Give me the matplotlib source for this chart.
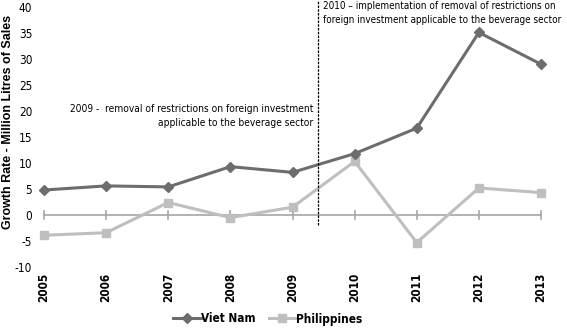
import matplotlib
matplotlib.use("Agg")
import matplotlib.pyplot as plt
from matplotlib import font_manager

years = ["2005", "2006", "2007", "2008", "2009", "2010", "2011", "2012", "2013"]
viet_nam = [4.8, 5.6, 5.4, 9.3, 8.2, 11.8, 16.7, 35.1, 29.0]
philippines = [-3.9, -3.4, 2.4, -0.5, 1.5, 10.3, -5.3, 5.2, 4.3]
y_ticks = [-10, -5, 0, 5, 10, 15, 20, 25, 30, 35, 40]

names = {f.name for f in font_manager.fontManager.ttflist}
narrow = "Liberation Sans Narrow" if "Liberation Sans Narrow" in names else "DejaVu Sans"
stretch = "normal" if narrow == "Liberation Sans Narrow" else "condensed"

W, H = 567, 328
fig = plt.figure(figsize=(W / 100, H / 100), dpi=100)
ax_l, ax_r, ax_t, ax_b = 35, 550, 7, 267
ax = fig.add_axes([ax_l / W, 1 - ax_b / H, (ax_r - ax_l) / W, (ax_b - ax_t) / H])

fp = dict(fontfamily=narrow, fontstretch=stretch)
x = list(range(len(years)))
sp = 62.125
ax.set_xlim(-(44 - ax_l) / sp, 8 + (ax_r - 541) / sp)
ax.set_ylim(-10, 40)

# zero axis line with crossing ticks
ax.plot([0, 8], [0, 0], color="#a6a6a6", lw=1.2, zorder=1)
for xi in x:
    ax.plot([xi, xi], [-0.75, 0.75], color="#a6a6a6", lw=1.2, zorder=1)

ax.plot(x, viet_nam, color="#6d6d6d", lw=2.2, marker="D", ms=4.8, label="Viet Nam", zorder=3)
ax.plot(x, philippines, color="#bfbfbf", lw=2.2, marker="s", ms=6.2, label="Philippines", zorder=2)

# vertical dotted line
ax.plot([4.41, 4.41], [-1.9, 41.4], color="black", lw=0.9, ls=(0, (2, 1)), clip_on=False, zorder=4)

for s in ax.spines.values():
    s.set_visible(False)
ax.set_yticks(y_ticks)
ax.set_yticklabels([str(v) for v in y_ticks], fontsize=8.5, **fp)
ax.tick_params(axis="y", length=0, pad=2)
ax.set_xticks(x)
ax.set_xticklabels(years, rotation=90, fontsize=8.5, fontweight="bold", **fp)
ax.tick_params(axis="x", length=0, pad=4)

fig.text(8 / W, 1 - 122 / H, "Growth Rate - Million Litres of Sales", rotation=90,
         ha="center", va="center", fontfamily="Liberation Sans", fontweight="bold", fontsize=9)

ax.text(4.33, 19.0, "2009 -  removal of restrictions on foreign investment\napplicable to the beverage sector",
        ha="right", va="center", fontsize=7.3, linespacing=1.5, **fp)
ax.text(4.49, 38.9, "2010 \u2013 implementation of removal of restrictions on\nforeign investment applicable to the beverage sector",
        ha="left", va="center", fontsize=7.1, linespacing=1.55, **fp)

leg = fig.legend(loc="center", bbox_to_anchor=(268 / W, 1 - 319 / H), ncol=2, frameon=False,
                 prop={"family": narrow, "size": 8.5, "weight": "bold", "stretch": stretch},
                 handlelength=2.3, columnspacing=1.1, handletextpad=0.05)

fig.savefig("out.png", dpi=100)
